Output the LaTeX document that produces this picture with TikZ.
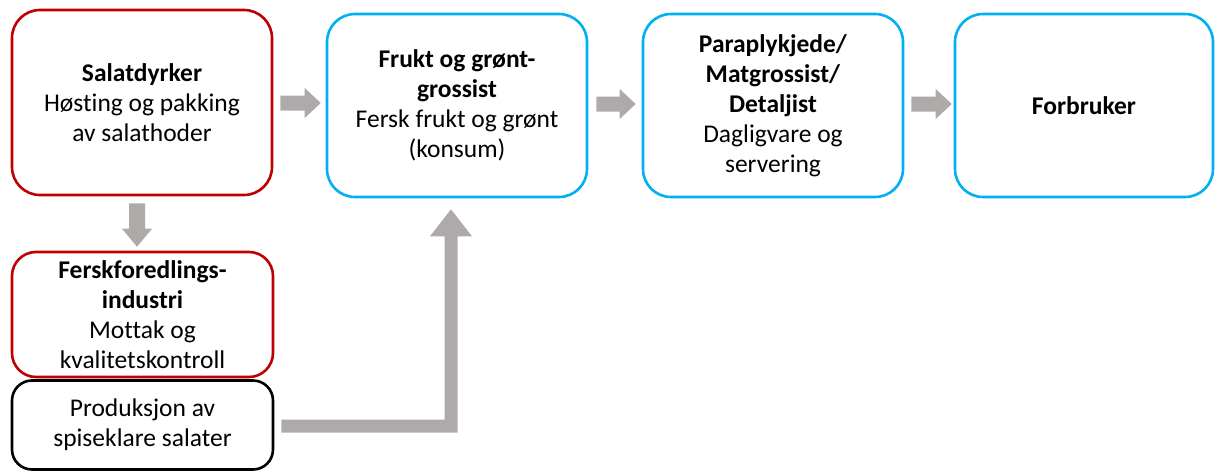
\documentclass[tikz,border=0pt]{standalone}
\usepackage{fontspec}
\setmainfont{Carlito}[Ligatures=NoCommon]
\usetikzlibrary{calc}
\definecolor{cropred}{HTML}{C00000}
\definecolor{tradeblue}{HTML}{00B0F0}
\definecolor{flowgray}{HTML}{AEAAAA}
\tikzset{
  stage/.style={draw, line width=2.6pt, fill=white, rounded corners=28pt,
    align=center, inner sep=0pt, text=black,
    font=\fontsize{25.5}{30}\selectfont},
  redstage/.style={stage, draw=cropred},
  bluestage/.style={stage, draw=tradeblue},
  plainstage/.style={stage, draw=black},
  flow/.style={fill=flowgray, draw=none}
}
% horizontal block arrow: start point, tip point (tip at start's height)
\newcommand{\rightflow}[2]{%
  \path[flow] let \p1=#1, \p2=#2 in
    (\x1,\y1+7.5pt) -- (\x2-16pt,\y1+7.5pt) -- (\x2-16pt,\y1+15pt) -- (\x2,\y1)
    -- (\x2-16pt,\y1-15pt) -- (\x2-16pt,\y1-7.5pt) -- (\x1,\y1-7.5pt) -- cycle;}
% downward block arrow: start point, tip point (tip below start)
\newcommand{\downflow}[2]{%
  \path[flow] let \p1=#1, \p2=#2 in
    (\x1-8pt,\y1) -- (\x1-8pt,\y2+18pt) -- (\x1-15pt,\y2+18pt) -- (\x1,\y2)
    -- (\x1+15pt,\y2+18pt) -- (\x1+8pt,\y2+18pt) -- (\x1+8pt,\y1) -- cycle;}
% elbow block arrow: right, then up to the tip
\newcommand{\elbowflow}[2]{%
  \path[flow] let \p1=#1, \p2=#2 in
    (\x1,\y1+6.5pt) -- (\x2-6.5pt,\y1+6.5pt) -- (\x2-6.5pt,\y2-27pt)
    -- (\x2-21pt,\y2-27pt) -- (\x2,\y2) -- (\x2+21pt,\y2-27pt)
    -- (\x2+6.5pt,\y2-27pt) -- (\x2+6.5pt,\y1-6.5pt) -- (\x1,\y1-6.5pt) -- cycle;}
\begin{document}
\begin{tikzpicture}
\useasboundingbox (0,0) rectangle (1215pt,-471pt);

\node[redstage, minimum width=260pt, minimum height=185pt] (s) at (142pt,-102.5pt)
  {\textbf{Salatdyrker}\\Høsting og pakking\\av salathoder};
\node[bluestage, minimum width=260pt, minimum height=183pt] (f) at (457pt,-105.5pt)
  {\textbf{Frukt og grønt-}\\\textbf{grossist}\\Fersk frukt og grønt\\(konsum)};
\node[bluestage, minimum width=260pt, minimum height=183pt] (p) at (773pt,-105.5pt)
  {\textbf{Paraplykjede/}\\\textbf{Matgrossist/}\\\textbf{Detaljist}\\Dagligvare og\\servering};
\node[bluestage, minimum width=258pt, minimum height=183pt] (c) at (1084pt,-105.5pt)
  {\textbf{Forbruker}};
\node[redstage, rounded corners=24pt, minimum width=261pt, minimum height=125pt] (i) at (142.5pt,-314.5pt)
  {\textbf{Ferskforedlings-}\\\textbf{industri}\\Mottak og\\kvalitetskontroll};
\node[plainstage, rounded corners=20pt, minimum width=261pt, minimum height=89pt] (m) at (142.5pt,-425pt)
  {Produksjon av\\spiseklare salater};

\rightflow{($(s.east)+(7pt,-0.5pt)$)}{($(f.west)+(-5pt,0)$)}
\rightflow{($(f.east)+(8pt,1.5pt)$)}{($(p.west)+(-6pt,0)$)}
\rightflow{($(p.east)+(7pt,1.5pt)$)}{($(c.west)+(-2pt,0)$)}
\downflow{($(s.south)+(-5pt,-7pt)$)}{($(i.north)+(0,4pt)$)}
\elbowflow{($(m.east)+(7pt,-1pt)$)}{($(f.south)+(-6pt,-11pt)$)}
\end{tikzpicture}
\end{document}
